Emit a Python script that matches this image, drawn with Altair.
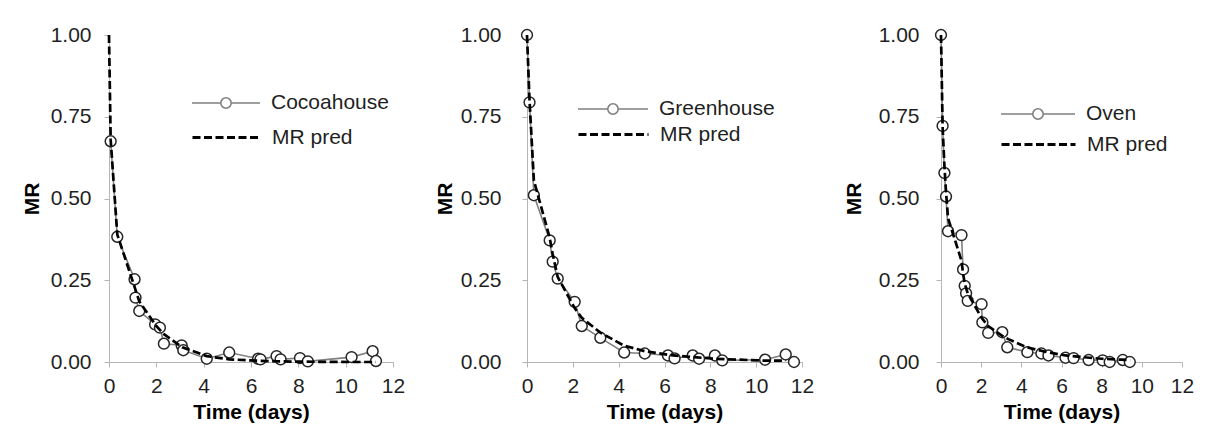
import altair as alt
import pandas as pd

FONT = "Liberation Sans"

# ---------------- data ----------------
coco_t = [0.07, 0.35, 1.08, 1.12, 1.28, 1.95, 2.15, 2.32, 3.07, 3.14, 4.13, 5.08,
          6.3, 6.4, 7.08, 7.25, 8.07, 8.4, 10.25, 11.14, 11.28]
coco_mr = [0.675, 0.383, 0.253, 0.197, 0.156, 0.115, 0.105, 0.056, 0.051, 0.036, 0.010, 0.029,
           0.010, 0.008, 0.018, 0.008, 0.012, 0.002, 0.015, 0.033, 0.003]
coco_pred_t = [0, 0.07, 0.35, 1.1, 1.28, 2.0, 2.32, 3.1, 4.13, 5.08, 6.3, 7.1, 8.1, 10.25, 11.28]
coco_pred = [1.0, 0.68, 0.39, 0.225, 0.185, 0.11, 0.085, 0.045, 0.018, 0.008, 0.004, 0.002,
             0.001, 0.0, 0.0]

green_t = [0, 0.11, 0.3, 0.99, 1.12, 1.34, 2.08, 2.39, 3.2, 4.24, 5.14, 6.15, 6.44, 7.23,
           7.51, 8.2, 8.52, 10.39, 11.29, 11.65]
green_mr = [1.0, 0.794, 0.51, 0.372, 0.307, 0.255, 0.184, 0.110, 0.074, 0.029, 0.026, 0.02,
            0.011, 0.02, 0.010, 0.02, 0.005, 0.007, 0.023, 0.0]
green_pred_t = [0, 0.11, 0.3, 0.99, 1.12, 1.34, 2.08, 2.39, 3.2, 4.24, 5.14, 6.15, 7.23, 8.2,
                10.39, 11.29]
green_pred = [1.0, 0.80, 0.555, 0.38, 0.33, 0.26, 0.165, 0.135, 0.09, 0.05, 0.033, 0.022,
              0.015, 0.01, 0.004, 0.004]

oven_t = [0, 0.08, 0.17, 0.25, 0.35, 1.02, 1.1, 1.18, 1.25, 1.33, 2.02, 2.06, 2.35, 3.05,
          3.3, 4.3, 5.0, 5.35, 6.2, 6.6, 7.35, 8.05, 8.4, 9.05, 9.4]
oven_mr = [1.0, 0.722, 0.578, 0.506, 0.40, 0.388, 0.283, 0.233, 0.21, 0.187, 0.177, 0.121,
           0.089, 0.091, 0.045, 0.03, 0.026, 0.02, 0.013, 0.012, 0.006, 0.005, 0.0, 0.006, 0.0]
oven_pred_t = [0, 0.08, 0.17, 0.25, 0.35, 1.02, 1.1, 1.18, 1.33, 2.02, 2.35, 3.05, 3.35, 4.25,
               5.3, 6.2, 7.4, 8.0, 8.97, 9.42]
oven_pred = [1.0, 0.72, 0.60, 0.52, 0.44, 0.31, 0.27, 0.24, 0.21, 0.135, 0.11, 0.08, 0.07,
             0.045, 0.03, 0.02, 0.013, 0.01, 0.007, 0.006]

x_ticks = [0, 2, 4, 6, 8, 10, 12]
y_ticks = [0, 0.25, 0.5, 0.75, 1.0]

LINE_GREY = "#808080"
AXIS_GREY = "#b5b5b5"
TEXT = "#1f1f1f"


def legend_path(r):
    return (f"M-1,0H-{r}M{r},0H1M{r},0A{r},{r},0,1,1,-{r},0A{r},{r},0,1,1,{r},0Z")


def panel(name, t, mr, pt, pv, width, height, lab_pad, title_pad, leg_x, leg_y1, leg_y2, sym_w):
    obs = pd.DataFrame({"t": t, "mr": mr, "series": name, "i": list(range(len(t)))})
    pred = pd.DataFrame({"t": pt, "mr": pv, "model": "MR pred", "i": list(range(len(pt)))})

    xs = alt.Scale(domain=[0, 12], nice=False, zero=False)
    ys = alt.Scale(domain=[0, 1], nice=False)
    xax = alt.Axis(values=x_ticks, title="Time (days)", grid=False, tickSize=5,
                   labelPadding=8, titlePadding=5, labelFontSize=21, titleFontSize=21,
                   labelFont=FONT, titleFont=FONT, titleFontWeight="bold",
                   labelColor=TEXT, titleColor="black", domainColor=AXIS_GREY,
                   tickColor=AXIS_GREY, labelFlush=False)
    yax = alt.Axis(values=y_ticks, format=".2f", title="MR", grid=False, tickSize=5,
                   labelPadding=lab_pad, titlePadding=title_pad, labelFontSize=21,
                   titleFontSize=21, labelFont=FONT, titleFont=FONT,
                   titleFontWeight="bold", labelColor=TEXT, titleColor="black",
                   domainColor=AXIS_GREY, tickColor=AXIS_GREY)

    size = int(sym_w * sym_w)
    r = round(5.2 / (sym_w / 2), 3)

    line = alt.Chart(obs).mark_line(strokeWidth=1.6).encode(
        x=alt.X("t:Q", scale=xs, axis=xax),
        y=alt.Y("mr:Q", scale=ys, axis=yax),
        order="i:Q",
        color=alt.Color("series:N",
                        scale=alt.Scale(domain=[name], range=[LINE_GREY]),
                        legend=alt.Legend(title=None, orient="none", legendX=leg_x,
                                          legendY=leg_y1, padding=0,
                                          symbolType=legend_path(r), symbolSize=size,
                                          symbolStrokeWidth=1.6, symbolFillColor="white",
                                          labelFont=FONT, labelFontSize=21,
                                          labelColor=TEXT, labelOffset=10,
                                          labelLimit=300)),
    )
    pts = alt.Chart(obs).mark_point(shape="circle", filled=True, fill="white",
                                    stroke="#262626", strokeWidth=1.5, size=118,
                                    opacity=1).encode(x="t:Q", y="mr:Q")
    predl = alt.Chart(pred).mark_line(color="black", strokeWidth=2.7).encode(
        x="t:Q", y="mr:Q", order="i:Q",
        strokeDash=alt.StrokeDash("model:N",
                                  scale=alt.Scale(domain=["MR pred"], range=[[8, 3.5]]),
                                  legend=alt.Legend(title=None, orient="none",
                                                    legendX=leg_x, legendY=leg_y2,
                                                    padding=0, symbolType="stroke",
                                                    symbolSize=size, symbolStrokeWidth=3,
                                                    symbolStrokeColor="black",
                                                    labelFont=FONT, labelFontSize=21,
                                                    labelColor=TEXT, labelOffset=10,
                                                    labelLimit=300)),
    )
    return alt.layer(line, pts, predl).properties(width=width, height=height)


p1 = panel("Cocoahouse", coco_t, coco_mr, coco_pred_t, coco_pred,
           284, 327, 13, 8, 82, 33, 67, 68)
p2 = panel("Greenhouse", green_t, green_mr, green_pred_t, green_pred,
           275, 327, 21, 5, 50, 38, 63, 70)
p3 = panel("Oven", oven_t, oven_mr, oven_pred_t, oven_pred,
           241, 327, 17, 14, 59, 41, 71, 74)

chart = alt.hconcat(p1, p2, p3, spacing=29).resolve_scale(
    color="independent", strokeDash="independent"
).properties(
    padding={"left": 21, "top": 24, "right": 5, "bottom": 5},
    background="white",
).configure_view(strokeWidth=0)

chart.save("out.html", embed_options={"renderer": "svg", "actions": False})
